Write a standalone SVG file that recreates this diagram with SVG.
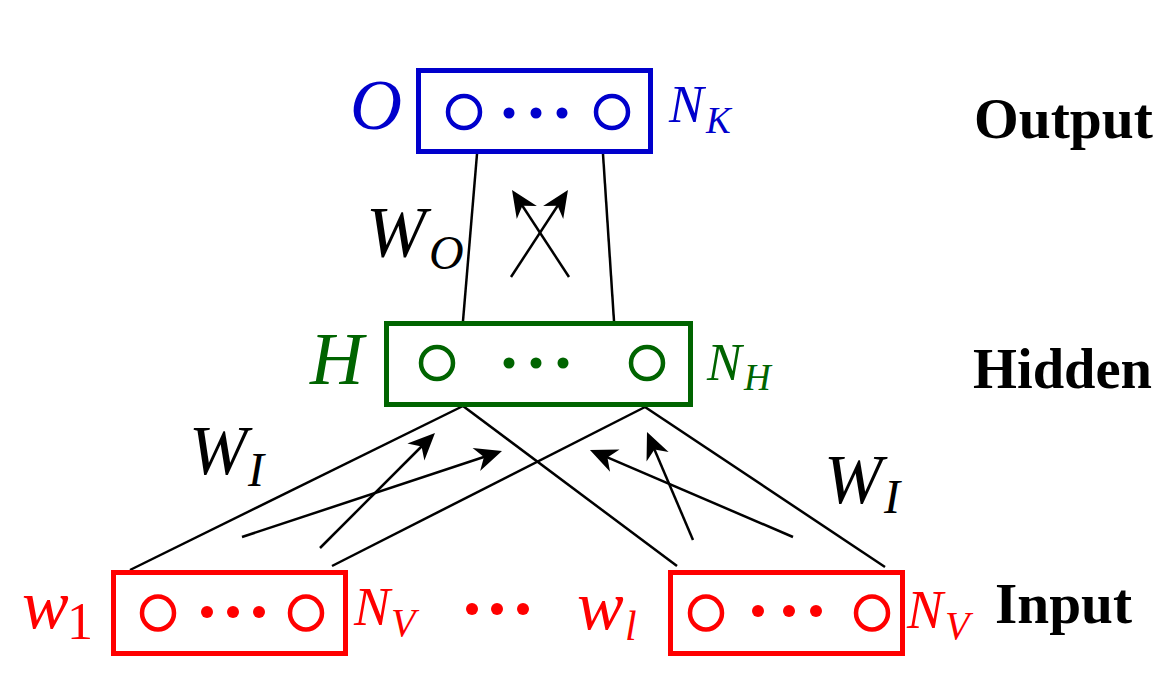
<svg xmlns="http://www.w3.org/2000/svg" width="1174" height="694" viewBox="0 0 1174 694">
<style>
.box{fill:none;stroke-width:5}
.unit{fill:none;stroke-width:4.5}
.m{font-family:"Liberation Serif","Times New Roman",serif;font-style:italic}
.lay{font-family:"Liberation Serif","Times New Roman",serif;font-weight:bold;fill:#000}
.blue{stroke:#0000CC;fill:#0000CC}
.green{stroke:#006400;fill:#006400}
.red{stroke:#FF0000;fill:#FF0000}
.edge{stroke:#000;stroke-width:2.5;fill:none}
.arr{stroke:#000;stroke-width:2.5;fill:none;marker-end:url(#ah)}
</style>
<defs>
<marker id="ah" markerUnits="userSpaceOnUse" viewBox="-20 -14 36 28" markerWidth="36" markerHeight="28" refX="0" refY="0" orient="auto" overflow="visible">
<path d="M12,0 L-15,-12 L-7,0 L-15,12 Z" fill="#000"/>
</marker>
</defs>
<rect width="1174" height="694" fill="#fff"/>

<g id="connectors">
<line class="edge" x1="477" y1="154" x2="463" y2="321"/>
<line class="edge" x1="603" y1="154" x2="614" y2="321"/>
<line class="edge" x1="130" y1="570" x2="463" y2="406"/>
<line class="edge" x1="332" y1="566" x2="645" y2="407"/>
<line class="edge" x1="463" y1="406" x2="677" y2="566"/>
<line class="edge" x1="645" y1="407" x2="885" y2="567"/>
<line class="arr" x1="511" y1="277" x2="561.4" y2="200"/>
<line class="arr" x1="569" y1="277" x2="518.6" y2="200"/>
<line class="arr" x1="320" y1="548" x2="426.5" y2="441.5"/>
<line class="arr" x1="242" y1="537" x2="490.6" y2="454.8"/>
<line class="arr" x1="693" y1="540" x2="651.7" y2="443"/>
<line class="arr" x1="793" y1="537" x2="601" y2="454.7"/>
</g>

<g id="output">
<rect class="box blue" style="fill:none" x="418.5" y="70.5" width="232" height="81"/>
<circle class="unit blue" style="fill:none" cx="464" cy="112" r="16"/>
<circle class="unit blue" style="fill:none" cx="612" cy="112" r="16"/>
<g fill="#0000CC"><circle cx="509" cy="113" r="5.5"/><circle cx="536" cy="113" r="5.5"/><circle cx="562" cy="113" r="5.5"/></g>
<text class="m" x="350" y="129" font-size="72" fill="#0000CC">O</text>
<text class="m" x="669" y="122" font-size="52" fill="#0000CC">N<tspan x="706" y="133" font-size="37">K</tspan></text>
</g>

<g id="hidden">
<rect class="box green" style="fill:none" x="386.5" y="323.5" width="304" height="81"/>
<circle class="unit green" style="fill:none" cx="437" cy="363" r="16"/>
<circle class="unit green" style="fill:none" cx="647" cy="363" r="16"/>
<g fill="#006400"><circle cx="509" cy="363" r="5.5"/><circle cx="536" cy="363" r="5.5"/><circle cx="563" cy="363" r="5.5"/></g>
<text class="m" x="310" y="384" font-size="74" fill="#006400">H</text>
<text class="m" x="707" y="380" font-size="52" fill="#006400">N<tspan x="744" y="390" font-size="37">H</tspan></text>
</g>

<g id="input1">
<rect class="box red" style="fill:none" x="113.5" y="572.5" width="232" height="81"/>
<ellipse class="unit red" style="fill:none" cx="158" cy="613" rx="16" ry="16.5"/>
<ellipse class="unit red" style="fill:none" cx="306" cy="613" rx="16" ry="16.5"/>
<g fill="#FF0000"><circle cx="207" cy="612" r="6"/><circle cx="233" cy="612" r="6"/><circle cx="259" cy="612" r="6"/></g>
<text class="m" x="22" y="628" font-size="70" fill="#FF0000">w<tspan x="67" y="639" font-size="52" font-style="normal">1</tspan></text>
<text class="m" x="354" y="625" font-size="54" fill="#FF0000">N<tspan x="391" y="636" font-size="40">V</tspan></text>
</g>

<g id="ellipsis" fill="#FF0000">
<circle cx="472" cy="609" r="6"/><circle cx="497" cy="609" r="6"/><circle cx="523" cy="609" r="6"/>
</g>

<g id="inputl">
<rect class="box red" style="fill:none" x="670.5" y="572.5" width="232" height="81"/>
<ellipse class="unit red" style="fill:none" cx="706" cy="613" rx="16" ry="16.5"/>
<ellipse class="unit red" style="fill:none" cx="872" cy="613" rx="16" ry="16.5"/>
<g fill="#FF0000"><circle cx="758" cy="611" r="6"/><circle cx="789" cy="611" r="6"/><circle cx="816" cy="611" r="6"/></g>
<text class="m" x="577" y="629" font-size="70" fill="#FF0000">w<tspan x="625" y="640" font-size="42">l</tspan></text>
<text class="m" x="907" y="628" font-size="54" fill="#FF0000">N<tspan x="945" y="639" font-size="40">V</tspan></text>
</g>

<g id="weights" fill="#000">
<text class="m" x="366" y="256" font-size="72">W<tspan x="429" y="269" font-size="48">O</tspan></text>
<text class="m" x="189" y="474" font-size="70">W<tspan x="248" y="486" font-size="48">I</tspan></text>
<text class="m" x="824" y="503" font-size="70">W<tspan x="884" y="513" font-size="48">I</tspan></text>
</g>

<g id="layer-labels">
<text class="lay" x="974" y="138" font-size="58" textLength="179" lengthAdjust="spacingAndGlyphs">Output</text>
<text class="lay" x="973" y="388" font-size="57" textLength="179" lengthAdjust="spacingAndGlyphs">Hidden</text>
<text class="lay" x="995" y="623" font-size="56" textLength="137" lengthAdjust="spacingAndGlyphs">Input</text>
</g>
</svg>
